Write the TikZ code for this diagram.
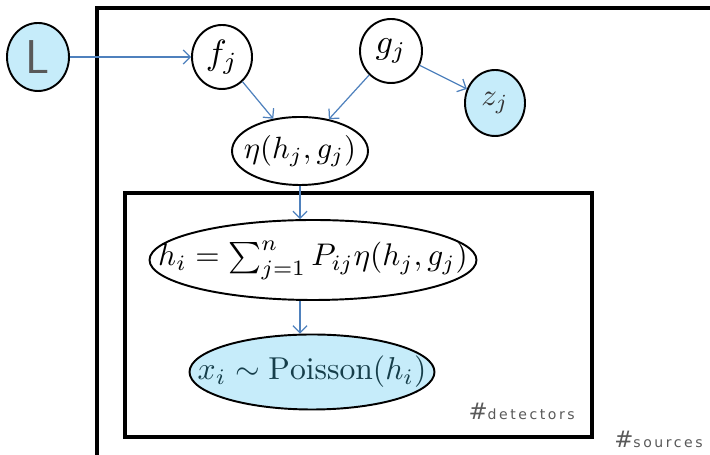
\documentclass[tikz,border=0pt]{standalone}
\usepackage{fontspec}
\usepackage{xcolor}
\usepackage{graphicx}
\usepackage{tikz}
\usetikzlibrary{positioning, calc, shapes.geometric, arrows.meta}
\newfontfamily\platefont[LetterSpace=18]{DejaVu Sans}
\definecolor{ObsColor}{RGB}{198,236,250}
\definecolor{EdgeColor}{RGB}{79,129,189}
\definecolor{ObsText}{RGB}{22,62,74}
\newcommand{\nodetext}[2][1.8]{\makebox[0pt]{\scalebox{#1}{#2}}}
\tikzset{
    latent/.style={
        shape=ellipse,
        draw=black,
        line width=1.1pt,
        fill=white,
        inner sep=1pt
    },
    observed/.style={
        latent,
        fill=ObsColor
    },
    plate/.style={
        draw=black,
        line width=1.8pt
    },
    edge/.style={
        draw=EdgeColor,
        line width=0.7pt,
        -{Straight Barb[length=4pt,width=8pt]}
    },
    platelabel/.style={
        anchor=base east,
        inner sep=0pt,
        text=black!65,
        font=\platefont\fontsize{8}{9}\selectfont
    }
}

\begin{document}
\begin{tikzpicture}
\useasboundingbox (0,0) rectangle (14.2,9.1);
\clip (0,0) rectangle (14.2,9.1);

% Plates
\draw[plate] (15,8.94) -- (1.94,8.94) -- (1.94,-1);
\draw[plate] (2.5,0.36) rectangle (11.84,5.24);
\node[platelabel] (l_det) at (11.5,0.7) {{\fontsize{13}{14}\selectfont\#}detectors};
\node[platelabel] (l_src) at (14.06,0.14) {{\fontsize{13}{14}\selectfont\#}sources};

% Source level
\node[observed, minimum width=1.24cm, minimum height=1.36cm, text=black!65] (n_L) at (0.76,7.96) {\nodetext[1]{\fontsize{27}{30}\selectfont\sffamily L}};
\node[latent, minimum width=1.2cm, minimum height=1.28cm] (n_f) at (4.44,7.96) {\nodetext[2.0]{$f_j$}};
\node[latent, minimum width=1.24cm, minimum height=1.28cm] (n_g) at (7.82,8.08) {\nodetext[1.95]{$g_j$}};
\node[observed, minimum width=1.2cm, minimum height=1.32cm, text=black!80] (n_z) at (9.9,7.04) {\nodetext[1.75]{$z_j$}};
\node[latent, minimum width=2.72cm, minimum height=1.36cm] (n_eta) at (6.0,6.08) {\nodetext[1.75]{$\eta(h_j,g_j)$}};

% Detector level
\node[latent, minimum width=6.54cm, minimum height=1.6cm] (n_h) at (6.26,3.9) {\nodetext[1.78]{$h_i=\sum_{j=1}^{n}P_{ij}\eta(h_j,g_j)$}};
\node[observed, minimum width=4.9cm, minimum height=1.5cm, text=ObsText] (n_x) at (6.24,1.66) {\nodetext[1.8]{$x_i\sim\mathrm{Poisson}(h_i)$}};

% Edges
\draw[edge] (n_L) -- (n_f);
\draw[edge] (n_f) -- (n_eta);
\draw[edge] (n_g) -- (n_eta);
\draw[edge] (n_g) -- (n_z);
\draw[edge] (n_eta.south) -- (n_eta.south |- n_h.north);
\draw[edge] (n_eta.south |- n_h.south) -- (n_eta.south |- n_x.north);

\end{tikzpicture}
\end{document}
